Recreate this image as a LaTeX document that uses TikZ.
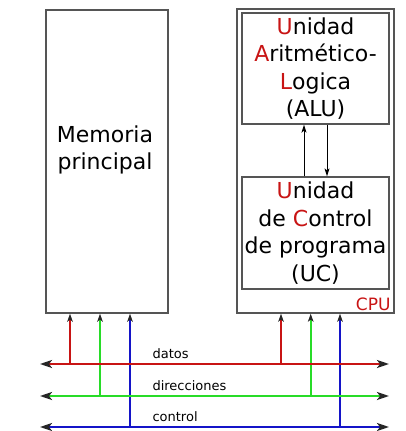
\documentclass[tikz,border=0pt]{standalone}
\usepackage{fontspec}
\setmainfont{DejaVu Sans}
\usepackage{tikz}
\usetikzlibrary{positioning,arrows.meta,calc}

\definecolor{rojo}{RGB}{200,20,20}
\definecolor{verde}{RGB}{40,220,40}
\definecolor{azul}{RGB}{20,20,200}
\definecolor{borde}{RGB}{85,85,85}

\begin{document}
\begin{tikzpicture}[x=1pt,y=-1pt,
  caja/.style={rectangle,draw=borde,line width=1.3pt,minimum width=#1,inner sep=0pt},
  texto/.style={align=center,font=\fontsize{22}{27.5}\selectfont},
  bus/.style={line width=2.6pt,draw=#1,{Stealth[length=12pt,width=8pt,inset=3pt,color=black!85]}-{Stealth[length=12pt,width=8pt,inset=3pt,color=black!85]}},
  sube/.style={line width=2pt,draw=#1,-{Stealth[length=8pt,width=5.5pt,inset=2pt,color=black!85]}},
  flecha/.style={->,>={Stealth[length=8pt,width=5pt,inset=2pt]},line width=1pt,black},
  etiq/.style={font=\fontsize{13}{15}\selectfont,anchor=west},
]
\useasboundingbox (0,0) rectangle (406,431);

% === MEMORIA ===
\node[caja=122pt,minimum height=303pt] (memoria) at (107,161.5) {};
\node[texto] (memtxt) at (105,150) {Memoria\\principal};

% === CPU ===
\node[caja=157pt,minimum height=304pt] (cpu) at (315.5,161) {};
\node[caja=147pt,minimum height=111pt] (alu) at (315.5,68.5) {};
\node[texto] (alutxt) at (alu) {\textcolor{rojo}{U}nidad\\\textcolor{rojo}{A}ritmético-\\\textcolor{rojo}{L}ogica\\(ALU)};
\node[caja=147pt,minimum height=112pt] (uc) at (315.5,233) {};
\node[texto] (uctxt) at (uc) {\textcolor{rojo}{U}nidad\\de \textcolor{rojo}{C}ontrol\\de programa\\(UC)};
\node[font=\fontsize{17}{19}\selectfont,text=rojo,anchor=south east,inner sep=1pt] (cputxt) at ([xshift=-3pt,yshift=2pt]cpu.south east) {CPU};

\draw[flecha] ([xshift=-11.5pt]uc.north) -- ([xshift=-11.5pt]alu.south);
\draw[flecha] ([xshift=11.5pt]alu.south) -- ([xshift=11.5pt]uc.north);

% === BUSES ===
\coordinate (datosI) at (40,364);
\coordinate (datosD) at (389,364);
\coordinate (dirI) at (40,396);
\coordinate (dirD) at (389,396);
\coordinate (ctrlI) at (40,427);
\coordinate (ctrlD) at (389,427);

% conexiones verticales
\coordinate (m1) at (70,364);
\coordinate (m2) at (100,396);
\coordinate (m3) at (130,427);
\coordinate (c1) at (281,364);
\coordinate (c2) at (310.7,396);
\coordinate (c3) at (340,427);

\draw[sube=rojo] (m1) -- (m1 |- memoria.south);
\draw[sube=verde] (m2) -- (m2 |- memoria.south);
\draw[sube=azul] (m3) -- (m3 |- memoria.south);
\draw[sube=rojo] (c1) -- (c1 |- cpu.south);
\draw[sube=verde] (c2) -- (c2 |- cpu.south);
\draw[sube=azul] (c3) -- (c3 |- cpu.south);

\draw[bus=rojo] (datosI) -- (datosD);
\draw[bus=verde] (dirI) -- (dirD);
\draw[bus=azul] (ctrlI) -- (ctrlD);

\node[etiq] (datos) at (149,354) {datos};
\node[etiq] (dir) at (149,386) {direcciones};
\node[etiq] (ctrl) at (149,417) {control};

\end{tikzpicture}
\end{document}
